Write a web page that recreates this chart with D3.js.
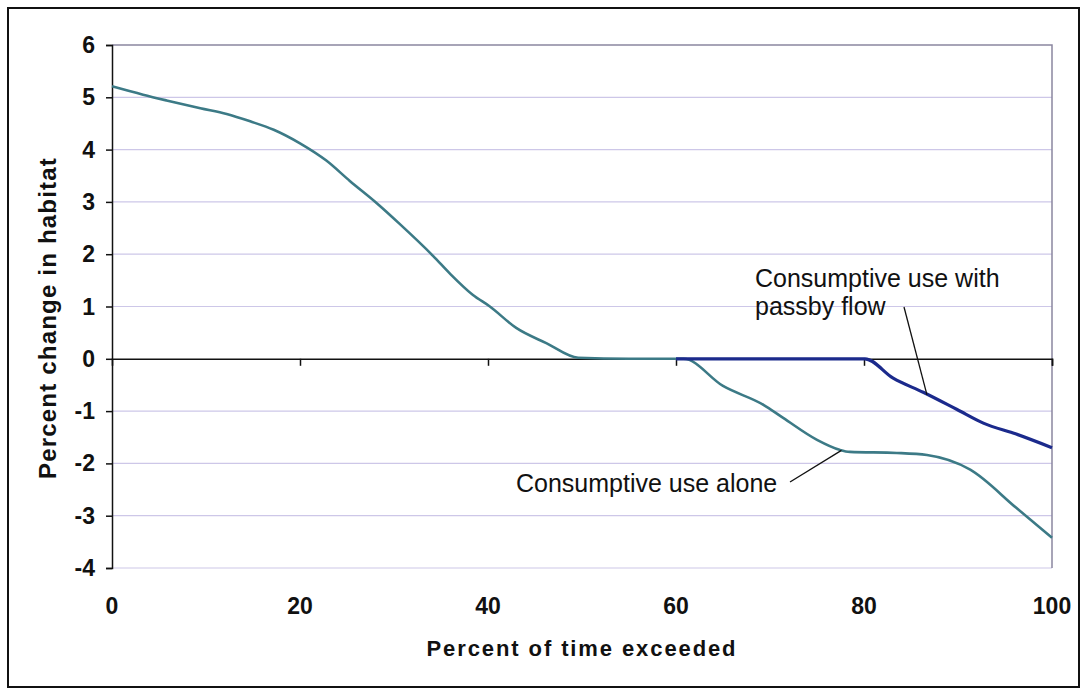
<!DOCTYPE html>
<html>
<head>
<meta charset="utf-8">
<script src="https://cdn.jsdelivr.net/npm/d3@7"></script>
<style>
  html, body { margin: 0; padding: 0; background: #fff; }
  svg { display: block; }
  text { font-family: "Liberation Sans", Arial, sans-serif; fill: #111; }
</style>
</head>
<body>
<svg id="chart" width="1082" height="688"></svg>
<script>
// Percent of time exceeded (x) vs percent change in habitat (y)
const aloneX = [0, 3.3, 5.8, 9.4, 12.2, 14.7, 17.2, 20, 22.8, 25.3, 28.2, 30.6, 34.2, 36, 38.4, 40.2, 43, 46.2, 49.6,
                55, 60.8, 65, 69.3, 71.4, 75, 77.4, 78.5, 83.5, 86.7, 91.3, 96.2, 100];
const aloneY = [5.21, 5.05, 4.94, 4.79, 4.68, 4.54, 4.38, 4.12, 3.79, 3.40, 2.97, 2.58, 1.96, 1.62, 1.22, 1.0, 0.59, 0.30, 0.02,
                0, 0, -0.52, -0.88, -1.13, -1.55, -1.74, -1.78, -1.80, -1.84, -2.12, -2.85, -3.42];

const passbyX = [60, 80.1, 83.1, 86.3, 89.9, 92.7, 96.2, 100];
const passbyY = [0, 0, -0.37, -0.64, -0.97, -1.23, -1.44, -1.70];

const xTicks = [0, 20, 40, 60, 80, 100];
const yTicks = [-4, -3, -2, -1, 0, 1, 2, 3, 4, 5, 6];

const xTitle = "Percent of time exceeded";
const yTitle = "Percent change in  habitat";
const labelAlone = "Consumptive use alone";
const labelPassby = ["Consumptive use with", "passby flow"];

const svg = d3.select("#chart");
const plotL = 112, plotR = 1052, plotT = 45, plotB = 568;

const x = d3.scaleLinear().domain([0, 100]).range([plotL, plotR]);
const y = d3.scaleLinear().domain([-4, 6]).range([plotB, plotT]);

// outer frame
svg.append("rect").attr("x", 8).attr("y", 8).attr("width", 1071).attr("height", 679)
  .attr("fill", "none").attr("stroke", "#111").attr("stroke-width", 2);

// horizontal gridlines
svg.append("g").selectAll("line").data(yTicks.filter(v => v !== 0 && v !== 6)).join("line")
  .attr("x1", plotL).attr("x2", plotR)
  .attr("y1", d => y(d)).attr("y2", d => y(d))
  .attr("stroke", "#cdc7e8").attr("stroke-width", 1.2);

// top and right plot border
svg.append("path")
  .attr("d", `M${plotL},${y(6)}H${plotR}V${plotB}`)
  .attr("fill", "none").attr("stroke", "#8a86a0").attr("stroke-width", 1.5);

// y axis
const yAxis = d3.axisLeft(y).tickValues(yTicks).tickSize(6).tickFormat("");
const gy = svg.append("g").attr("transform", `translate(${plotL},0)`).call(yAxis);
gy.select(".domain").attr("stroke", "#111").attr("stroke-width", 1.5);
gy.selectAll(".tick line").attr("stroke", "#111").attr("stroke-width", 1.5);

// y tick labels
svg.append("g").selectAll("text").data(yTicks).join("text")
  .attr("x", 95).attr("y", d => y(d))
  .attr("text-anchor", "end").attr("dominant-baseline", "central")
  .attr("font-weight", "bold").attr("font-size", 23)
  .text(d => d);

// x axis along zero
const xAxis = d3.axisBottom(x).tickValues(xTicks.filter(v => v > 0)).tickSize(7).tickFormat("");
const gx = svg.append("g").attr("transform", `translate(0,${y(0)})`).call(xAxis);
gx.select(".domain").attr("stroke", "#111").attr("stroke-width", 1.6);
gx.selectAll(".tick line").attr("stroke", "#111").attr("stroke-width", 1.5);

// x tick labels
svg.append("g").selectAll("text").data(xTicks).join("text")
  .attr("x", d => x(d)).attr("y", 614)
  .attr("text-anchor", "middle")
  .attr("font-weight", "bold").attr("font-size", 23)
  .text(d => d);

// axis titles
svg.append("text")
  .attr("x", 582).attr("y", 656)
  .attr("text-anchor", "middle").attr("font-weight", "bold").attr("font-size", 22)
  .attr("letter-spacing", 1.9)
  .text(xTitle);

svg.append("text")
  .attr("transform", `translate(56,318) rotate(-90)`)
  .attr("text-anchor", "middle").attr("font-weight", "bold").attr("font-size", 24)
  .attr("letter-spacing", 1.2)
  .text(yTitle);

// data lines
const line = d3.line().x(d => x(d[0])).y(d => y(d[1])).curve(d3.curveMonotoneX);

svg.append("path")
  .datum(aloneX.map((v, i) => [v, aloneY[i]]))
  .attr("d", line)
  .attr("fill", "none").attr("stroke", "#3c7a86").attr("stroke-width", 2.6);

svg.append("path")
  .datum(passbyX.map((v, i) => [v, passbyY[i]]))
  .attr("d", line)
  .attr("fill", "none").attr("stroke", "#1b2a8c").attr("stroke-width", 3.2);

// annotations
const ann = svg.append("g").attr("font-size", 25).attr("fill", "#222");
ann.append("text").attr("x", 755).attr("y", 287).text(labelPassby[0]);
ann.append("text").attr("x", 755).attr("y", 315).text(labelPassby[1]);
ann.append("text").attr("x", 516).attr("y", 492).text(labelAlone);

// leader lines
svg.append("line").attr("x1", 904).attr("y1", 307).attr("x2", x(86.7)).attr("y2", y(-0.69))
  .attr("stroke", "#111").attr("stroke-width", 1.3);
svg.append("line").attr("x1", 790).attr("y1", 482).attr("x2", x(77.6)).attr("y2", y(-1.75))
  .attr("stroke", "#111").attr("stroke-width", 1.3);
</script>
</body>
</html>
